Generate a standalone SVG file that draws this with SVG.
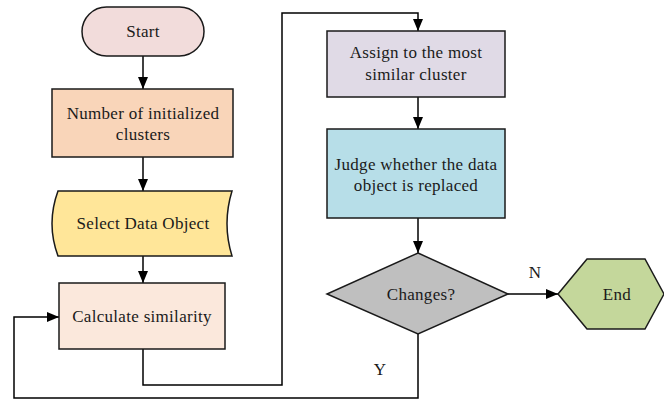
<svg xmlns="http://www.w3.org/2000/svg" width="664" height="399" viewBox="0 0 664 399">
<style>
.n{stroke:#1a1a1a;stroke-width:1.5}
.t{font-family:"Liberation Serif","Times New Roman",serif;font-size:17px;letter-spacing:0.3px;fill:#1a1a1a;text-anchor:middle}
.c{fill:none;stroke:#000;stroke-width:1.5}
</style>
<defs>
<marker id="ah" markerWidth="12" markerHeight="10" refX="12" refY="5" orient="auto" markerUnits="userSpaceOnUse">
<path d="M0,0 L12,5 L0,10 Z" fill="#000"/>
</marker>
</defs>
<rect width="664" height="399" fill="#fff"/>
<g id="connectors">
<path class="c" d="M143,56 V89" marker-end="url(#ah)"/>
<path class="c" d="M143,157 V191" marker-end="url(#ah)"/>
<path class="c" d="M143,256 V283" marker-end="url(#ah)"/>
<path class="c" d="M143,349 V385 H282 V13 H418 V31" marker-end="url(#ah)"/>
<path class="c" d="M418,97 V129" marker-end="url(#ah)"/>
<path class="c" d="M418,218 V253" marker-end="url(#ah)"/>
<path class="c" d="M508,294 H558" marker-end="url(#ah)"/>
<path class="c" d="M418,334 V398 H14 V317 H59" marker-end="url(#ah)"/>
<text class="t" x="535" y="278">N</text>
<text class="t" x="380" y="375">Y</text>
</g>
<g id="start">
<rect class="n" x="82" y="7" width="122" height="49" rx="24.5" fill="#F2DCDB"/>
<text class="t" x="143" y="37">Start</text>
</g>
<g id="init">
<rect class="n" x="52" y="89" width="181" height="68" fill="#F9D5B9"/>
<text class="t" x="143" y="119">Number of initialized</text>
<text class="t" x="143" y="140">clusters</text>
</g>
<g id="select">
<path class="n" d="M58,191 L232,191 Q222,223.5 232,256 L58,256 Q46,223.5 58,191 Z" fill="#FFE699"/>
<text class="t" x="143" y="229">Select Data Object</text>
</g>
<g id="calc">
<rect class="n" x="59" y="283" width="166" height="66" fill="#FBE8DC"/>
<text class="t" x="142" y="322">Calculate similarity</text>
</g>
<g id="assign">
<rect class="n" x="327" y="31" width="178" height="66" fill="#E0DAE6"/>
<text class="t" x="416" y="58">Assign to the most</text>
<text class="t" x="416" y="80">similar cluster</text>
</g>
<g id="judge">
<rect class="n" x="327" y="129" width="178" height="89" fill="#B7DEE8"/>
<text class="t" x="416" y="170">Judge whether the data</text>
<text class="t" x="416" y="191">object is replaced</text>
</g>
<g id="changes">
<path class="n" d="M418,253 L508,294 L418,334 L327,294 Z" fill="#BFBFBF"/>
<text class="t" x="421" y="300">Changes?</text>
</g>
<g id="end">
<path class="n" d="M558,294 L587,259 L645,259 L664,294 L645,329 L587,329 Z" fill="#C4D79B"/>
<text class="t" x="617" y="300">End</text>
</g>
</svg>
